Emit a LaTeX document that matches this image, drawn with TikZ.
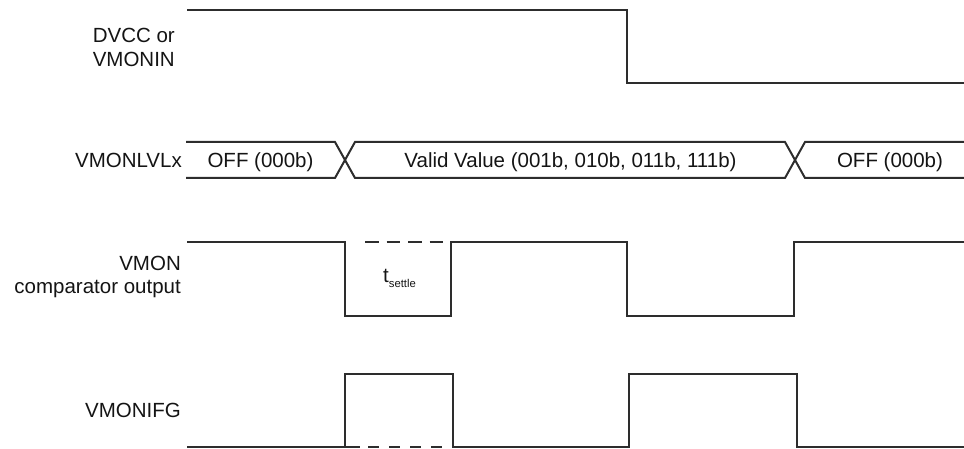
\documentclass[tikz,border=0pt]{standalone}
\usepackage{fontspec}
\setmainfont{Liberation Sans}
\definecolor{wavec}{RGB}{45,45,45}
\definecolor{txtc}{RGB}{20,20,20}
\begin{document}
\begin{tikzpicture}[x=1pt,y=-1pt,
  wave/.style={draw=wavec,line width=2pt,line join=miter},
  dashwave/.style={draw=wavec,line width=2pt,dash pattern=on 13.5pt off 8pt},
  dashwaveb/.style={draw=wavec,line width=2pt,dash pattern=on 11pt off 10pt},
  lbl/.style={font=\fontsize{20.5}{24}\selectfont,text=txtc,inner sep=0pt}]
\useasboundingbox (0,0) rectangle (964,449);

% labels
\node[lbl,anchor=base east] (dvcc) at (175,43) {DVCC or};
\node[lbl,anchor=base east] (vmonin) at (175,67) {VMONIN};
\node[lbl,anchor=base east] (lvl) at (182,168) {VMONLVLx};
\node[lbl,anchor=base east] (vmon) at (181,270) {VMON};
\node[lbl,anchor=base east] (comp) at (181,293) {comparator output};
\node[lbl,anchor=base east] (ifg) at (181,417) {VMONIFG};

% DVCC / VMONIN
\draw[wave] (187,10) -- (627,10) -- (627,83) -- (964,83);

% VMONLVLx bus
\draw[wave] (186,142) -- (335,142) -- (355,178) -- (785,178) -- (805,142) -- (964,142);
\draw[wave] (186,178) -- (335,178) -- (355,142) -- (785,142) -- (805,178) -- (964,178);
\node[lbl,anchor=base] (off1) at (260.5,168) {OFF (000b)};
\node[lbl,anchor=base] (valid) at (570.5,167.5) {Valid Value (001b, 010b, 011b, 111b)};
\node[lbl,anchor=base] (off2) at (890,168) {OFF (000b)};

% VMON comparator output
\draw[wave] (187,242) -- (345,242) -- (345,316) -- (451,316) -- (451,242) -- (627,242)
  -- (627,316) -- (794,316) -- (794,242) -- (964,242);
\draw[dashwave] (365,242) -- (443,242);
\node[lbl,anchor=base west] (tset) at (383,283) {t\raisebox{-5pt}{\fontsize{11.3}{12}\selectfont settle}};

% VMONIFG
\draw[wave] (187,447) -- (345,447) -- (345,374) -- (453,374) -- (453,447) -- (629,447)
  -- (629,374) -- (797,374) -- (797,447) -- (964,447);
\draw[draw=wavec,line width=2pt] (345,447) -- (360,447);
\draw[dashwaveb] (368,447) -- (443,447);
\end{tikzpicture}
\end{document}
